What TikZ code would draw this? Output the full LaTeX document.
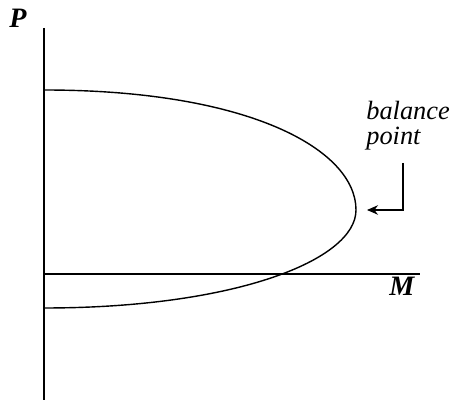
\documentclass[tikz,border=0pt]{standalone}
\usepackage{fontspec}
\setmainfont{Liberation Serif}
\usetikzlibrary{arrows.meta,positioning}
\tikzset{
  bp/axis/.style={line width=0.8pt, draw=black},
  bp/curve/.style={line width=0.8pt, draw=black},
  bp/label/.style={font=\fontsize{15}{14}\selectfont\itshape, text=black, inner sep=0pt, align=left},
  bp/axislabel/.style={font=\fontsize{16}{18}\selectfont\bfseries\itshape, text=black, inner sep=0pt},
  bp/arrow/.style={-{Stealth[length=2.2mm,width=1.9mm]}, line width=0.7pt, draw=black}
}

\begin{document}
\begin{tikzpicture}[x=0.02cm,y=-0.02cm]
  \useasboundingbox (0,0) rectangle (457,401);
  % axes
  \coordinate (origin) at (44,274);
  \coordinate (ptop) at (44,28);
  \coordinate (pbot) at (44,400);
  \coordinate (mend) at (420,274);
  \draw[bp/axis] (ptop) -- (pbot);
  \draw[bp/axis] (origin) -- (mend);
  \node[bp/axislabel,anchor=base west] (plab) at (9,28) {P};
  \node[bp/axislabel,anchor=base west] (mlab) at (389,296) {M};
  % interaction curve
  \coordinate (ctop) at (44,90);
  \coordinate (bal) at (356,210);
  \coordinate (cbot) at (44,308);
  \draw[bp/curve] (ctop) .. controls (250,90) and (356,150) .. (bal)
    .. controls (356,260) and (235,308) .. (cbot);
  % balance point label
  \node[bp/label,anchor=north west] (blab) at (366,101) {balance\\point};
  \coordinate (arrtop) at (403,163);
  \coordinate (arrtip) at (367,210);
  \draw[bp/arrow] (arrtop) |- (arrtip);
\end{tikzpicture}
\end{document}
